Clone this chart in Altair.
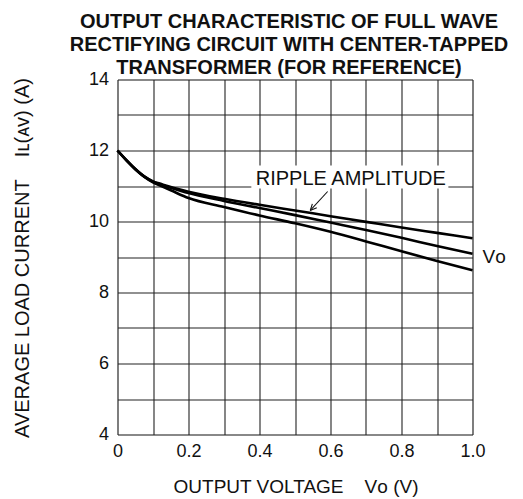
import altair as alt
import pandas as pd

FONT = "Liberation Sans, Arial, Helvetica, sans-serif"

# curve readings (output voltage V, average load current A)
x_vals = [0, 0.025, 0.05, 0.075, 0.1, 0.125, 0.15, 0.2, 0.3, 0.4, 0.5, 0.6, 0.7, 0.8, 0.9, 1.0]
upper = [12.0, 11.73, 11.48, 11.27, 11.13, 11.05, 10.97, 10.84, 10.64, 10.47, 10.31, 10.15, 9.99, 9.83, 9.68, 9.53]
middle = [12.0, 11.73, 11.48, 11.27, 11.12, 11.03, 10.95, 10.80, 10.58, 10.38, 10.18, 9.97, 9.76, 9.54, 9.31, 9.09]
lower = [12.0, 11.72, 11.47, 11.26, 11.10, 10.99, 10.88, 10.66, 10.41, 10.17, 9.95, 9.71, 9.44, 9.16, 8.89, 8.63]

x_ticks = [0, 0.1, 0.2, 0.3, 0.4, 0.5, 0.6, 0.7, 0.8, 0.9, 1.0]
y_ticks = [4, 5, 6, 7, 8, 9, 10, 11, 12, 13, 14]

title_lines = [
    "OUTPUT CHARACTERISTIC OF FULL WAVE",
    "RECTIFYING CIRCUIT WITH CENTER-TAPPED",
    "TRANSFORMER (FOR REFERENCE)",
]
annotation_text = "RIPPLE AMPLITUDE"
vo_text = "V\u1d0f"
x_title = "OUTPUT VOLTAGE\u00a0\u00a0\u00a0\u00a0V\u1d0f (V)"
y_title = "AVERAGE LOAD CURRENT\u00a0\u00a0\u00a0\u00a0I\u029f(\u1d00\u1d20) (A)"

rows = []
for name, ys in (("upper", upper), ("middle", middle), ("lower", lower)):
    for xv, yv in zip(x_vals, ys):
        rows.append({"x": xv, "y": yv, "series": name})
curves = pd.DataFrame(rows)

xscale = alt.Scale(domain=[0, 1], nice=False, zero=False)
yscale = alt.Scale(domain=[4, 14], nice=False, zero=False)

x_axis = alt.Axis(
    values=x_ticks, grid=True, gridColor="#222", gridWidth=1.1,
    ticks=False, tickSize=0, domain=False, labelFlush=False, labelOverlap=False,
    labelExpr="abs(round(datum.value*10) % 2) == 0 ? (datum.value == 0 ? '0' : format(datum.value, '.1f')) : ''",
    labelFont=FONT, labelFontSize=18, labelColor="#111", labelPadding=8,
    title=x_title, titleFont=FONT, titleFontSize=19, titleFontWeight="normal",
    titleColor="#111", titleX=178, titleY=57.5, titleBaseline="alphabetic", titleAlign="center",
)
y_axis = alt.Axis(
    values=y_ticks, grid=True, gridColor="#222", gridWidth=1.1,
    ticks=False, tickSize=0, domain=False, labelFlush=False, labelOverlap=False,
    labelExpr="datum.value % 2 == 0 ? datum.label : ''",
    labelFont=FONT, labelFontSize=18, labelColor="#111", labelPadding=9,
    title=y_title, titleFont=FONT, titleFontSize=20, titleFontWeight="normal",
    titleColor="#111", titleAngle=270, titleX=-89.5, titleY=178,
    titleBaseline="alphabetic", titleAlign="center",
)


def X(field="x"):
    return alt.X(f"{field}:Q", scale=xscale, axis=x_axis)


def Y(field="y"):
    return alt.Y(f"{field}:Q", scale=yscale, axis=y_axis)


lines = alt.Chart(curves).mark_line(color="black", strokeWidth=2.6, interpolate="monotone").encode(
    x=X(), y=Y(), detail="series:N",
)

box = alt.Chart(pd.DataFrame([{"x": 0.377, "x2": 0.932, "y": 10.93, "y2": 11.58}])).mark_rect(
    fill="white"
).encode(x=X(), x2="x2", y=Y(), y2="y2")

label = alt.Chart(pd.DataFrame([{"x": 0.657, "y": 11.02, "t": annotation_text}])).mark_text(
    font=FONT, fontSize=20, color="#111", align="center", baseline="alphabetic"
).encode(x=X(), y=Y(), text="t:N")

arrow = alt.Chart(pd.DataFrame([
    {"x": 0.592, "y": 10.845, "x2": 0.543, "y2": 10.31},
    {"x": 0.543, "y": 10.31, "x2": 0.5613, "y2": 10.385},
    {"x": 0.543, "y": 10.31, "x2": 0.5489, "y2": 10.498},
])).mark_rule(color="#111", strokeWidth=1.1).encode(x=X(), y=Y(), x2="x2", y2="y2")

vo = alt.Chart(pd.DataFrame([{"x": 1.0, "y": 9.0, "t": vo_text}])).mark_text(
    font=FONT, fontSize=19, color="#111", align="left", baseline="middle", dx=10
).encode(x=X(), y=Y(), text="t:N")

chart = alt.layer(lines, box, arrow, label, vo).properties(
    width=355, height=355,
    autosize=alt.AutoSizeParams(type="none"),
    padding={"left": 109.5, "top": 71.5, "right": 42, "bottom": 64},
    title=alt.TitleParams(
        text=title_lines, font=FONT, fontSize=20, fontWeight="bold", color="#111",
        anchor="middle", frame="group", lineHeight=23, offset=0, dx=-6, dy=27,
        baseline="bottom",
    ),
).configure_view(stroke="black", strokeWidth=2.6).configure(background="white")

chart.save("out.html", embed_options={"renderer": "svg", "actions": False})
